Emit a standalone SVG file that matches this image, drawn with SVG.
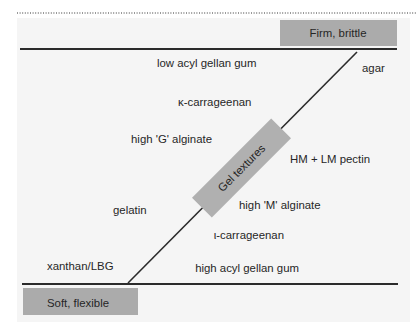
<svg xmlns="http://www.w3.org/2000/svg" width="417" height="328" viewBox="0 0 417 328">
<style>
text{font-family:"Liberation Sans",Arial,sans-serif;font-size:11.4px;fill:#262626}
.box{fill:#ababab}
.axis{stroke:#2b2b2b;stroke-width:2;fill:none}
.diag{stroke:#2b2b2b;stroke-width:1.6;fill:none}
</style>
<rect x="0" y="0" width="417" height="328" fill="#ffffff"/>
<line x1="17" y1="13" x2="417" y2="13" stroke="#333" stroke-width="1" stroke-dasharray="1 1.6"/>
<rect x="17" y="18" width="393" height="304" fill="#f5f5f5"/>
<g id="connectors">
<line class="axis" x1="20" y1="49" x2="397" y2="49"/>
<line class="axis" x1="22" y1="284" x2="398" y2="284"/>
<line class="diag" x1="357" y1="52" x2="128" y2="283"/>
</g>
<g id="firm-brittle">
<rect class="box" x="280" y="20" width="117" height="26"/>
<text x="338" y="37" text-anchor="middle">Firm, brittle</text>
</g>
<g id="soft-flexible">
<rect class="box" x="23" y="288" width="115" height="27"/>
<text x="78" y="307" text-anchor="middle">Soft, flexible</text>
</g>
<g id="gel-textures" transform="translate(241.5 168) rotate(-45)">
<rect x="-56" y="-14" width="112" height="28" fill="#b0b0b0"/>
<text x="0" y="4" text-anchor="middle">Gel textures</text>
</g>
<g id="low-acyl-gellan-gum"><text x="157" y="67">low acyl gellan gum</text></g>
<g id="agar"><text x="362" y="72">agar</text></g>
<g id="kappa-carrageenan"><text x="178" y="106">κ-carrageenan</text></g>
<g id="high-g-alginate"><text x="212" y="143" text-anchor="end">high 'G' alginate</text></g>
<g id="hm-lm-pectin"><text x="290" y="163">HM + LM pectin</text></g>
<g id="gelatin"><text x="113" y="214">gelatin</text></g>
<g id="high-m-alginate"><text x="239" y="209">high 'M' alginate</text></g>
<g id="iota-carrageenan"><text x="284" y="239" text-anchor="end">ι-carrageenan</text></g>
<g id="xanthan-lbg"><text x="47" y="270">xanthan/LBG</text></g>
<g id="high-acyl-gellan-gum"><text x="299" y="272" text-anchor="end">high acyl gellan gum</text></g>
</svg>
